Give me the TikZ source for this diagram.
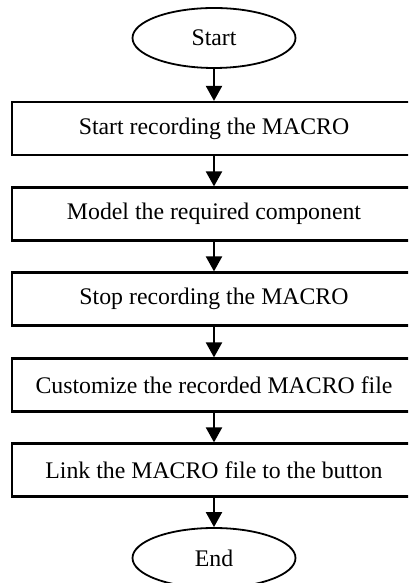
\documentclass[tikz,border=0pt]{standalone}
\usepackage{fontspec}
\setmainfont{Liberation Serif}
\usetikzlibrary{arrows.meta,shapes.geometric}
\begin{document}
\begin{tikzpicture}[x=1pt,y=1pt,
  stepbox/.style={draw,line width=2.2pt,minimum width=404pt,minimum height=53pt,inner sep=0pt,font=\fontsize{23.8}{28}\selectfont},
  term/.style={draw,ellipse,line width=1.8pt,minimum width=163pt,minimum height=60pt,inner sep=0pt,font=\fontsize{23.8}{28}\selectfont},
  arr/.style={line width=2.2pt,-{Triangle[width=16pt,length=15pt]}}]
\clip (0,0) rectangle (408,583);
\useasboundingbox (0,0) rectangle (408,583);
\node[term] (s) at (214,545) {Start};
\node[stepbox] (b1) at (214,454.5) {Start recording the MACRO};
\node[stepbox] (b2) at (214,369) {Model the required component};
\node[stepbox] (b3) at (214,284) {Stop recording the MACRO};
\node[stepbox] (b4) at (214,198) {Customize the recorded MACRO file};
\node[stepbox] (b5) at (214,113) {Link the MACRO file to the button};
\node[term] (e) at (214,25) {End};
\draw[arr] (s) -- (b1);
\draw[arr] (b1) -- (b2);
\draw[arr] (b2) -- (b3);
\draw[arr] (b3) -- (b4);
\draw[arr] (b4) -- (b5);
\draw[arr] (b5) -- (e);
\end{tikzpicture}
\end{document}
